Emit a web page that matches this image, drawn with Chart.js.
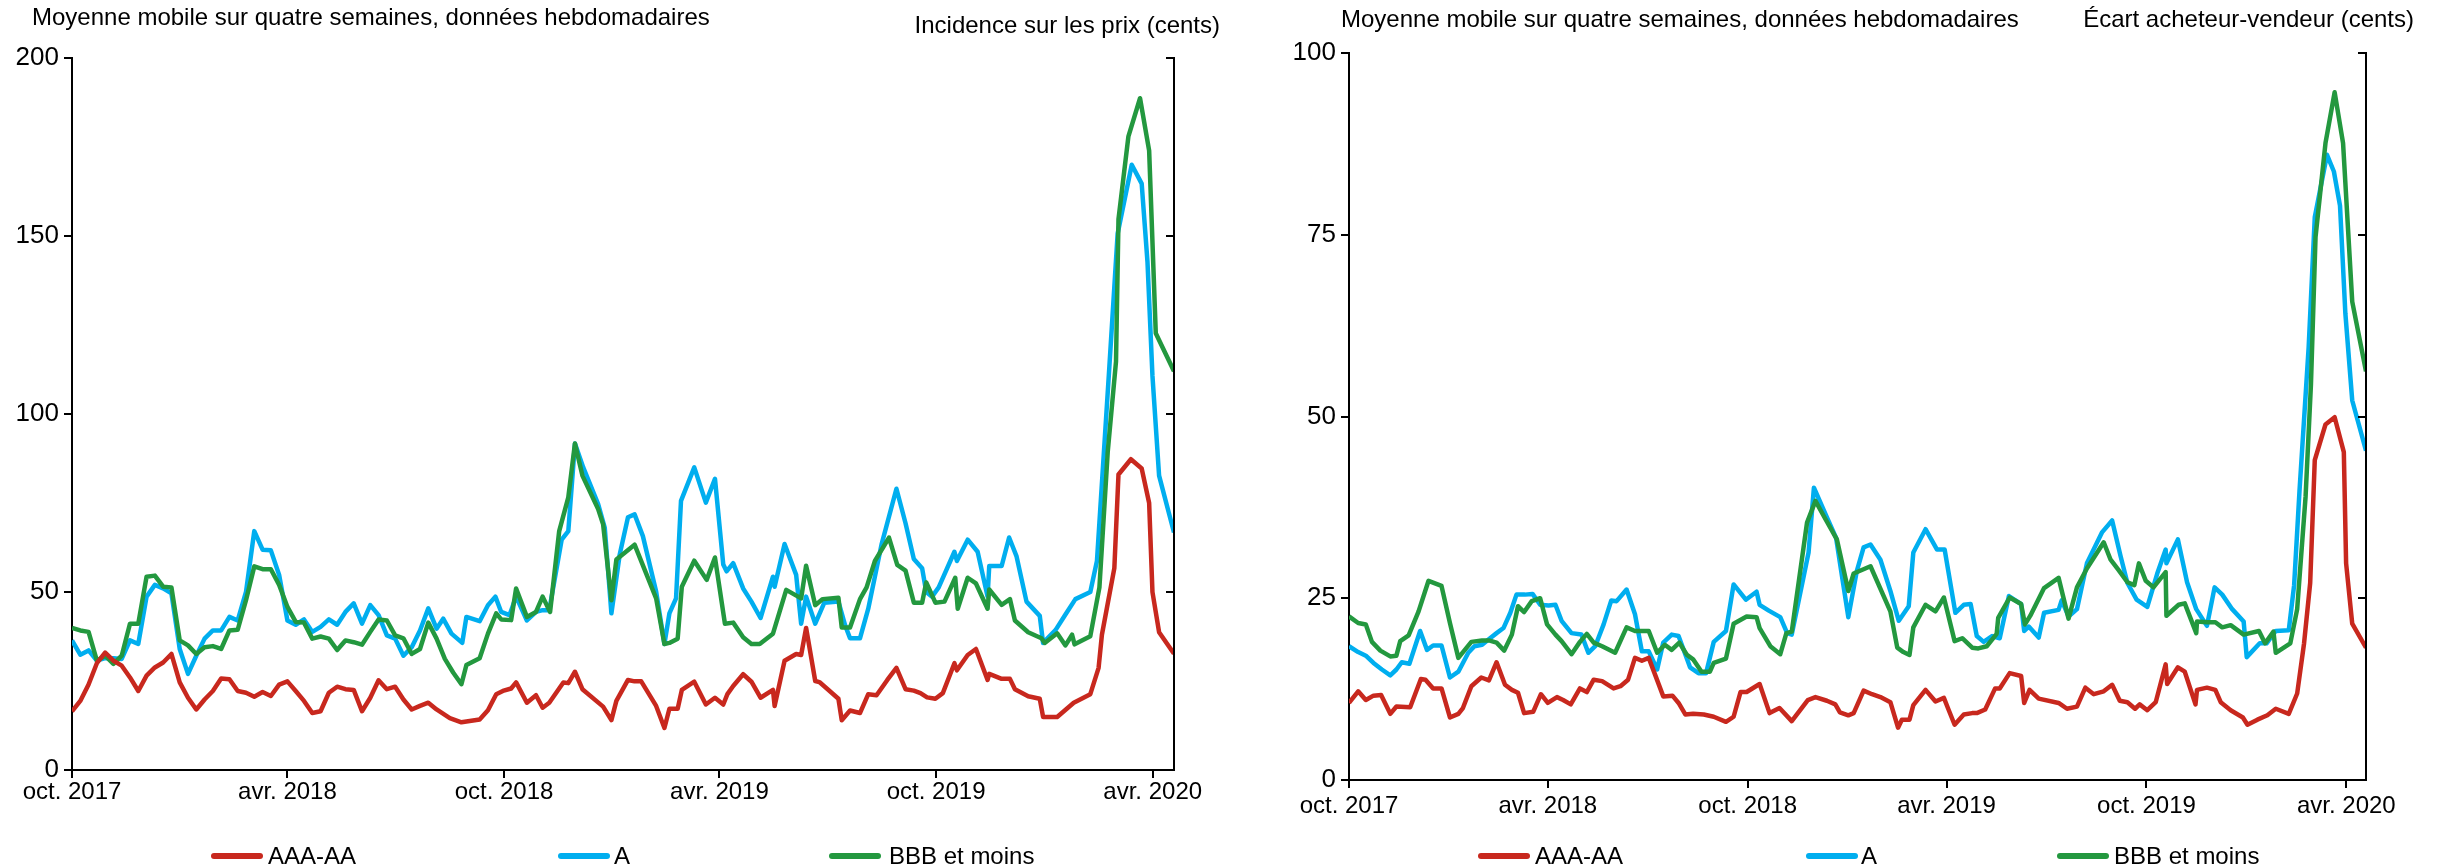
<!DOCTYPE html>
<html lang="fr">
<head>
<meta charset="utf-8">
<title>Incidence sur les prix et écart acheteur-vendeur</title>
<script src="https://cdn.jsdelivr.net/npm/chart.js@4.4.1/dist/chart.umd.min.js"></script>
<style>
  html, body { margin: 0; padding: 0; background: #fff; }
  body { width: 2443px; height: 868px; position: relative; overflow: hidden;
         font-family: "Liberation Sans", Arial, sans-serif; color: #000; }
  canvas { position: absolute; top: 0; }
  .txt { position: absolute; font-size: 24px; line-height: 28px; white-space: nowrap; }
  .sw { position: absolute; height: 6px; border-radius: 3px; }
</style>
</head>
<body>
<canvas id="prix" width="1240" height="868" style="left:0"></canvas>
<canvas id="ecart" width="1203" height="868" style="left:1240px"></canvas>

<div class="txt" style="left:32px; top:3px">Moyenne mobile sur quatre semaines, données hebdomadaires</div>
<div class="txt" style="right:1223px; top:11px">Incidence sur les prix (cents)</div>
<div class="txt" style="left:1341px; top:5px">Moyenne mobile sur quatre semaines, données hebdomadaires</div>
<div class="txt" style="right:29px; top:5px">Écart acheteur-vendeur (cents)</div>

<div id="legendes"></div>

<script>
// Axis labels (x positions in weeks since the start of October 2017)
const tickLabels = ['oct. 2017', 'avr. 2018', 'oct. 2018', 'avr. 2019', 'oct. 2019', 'avr. 2020'];
const tickWeeks = [0, 26, 52.14, 78.14, 104.29, 130.43];
const seriesNames = ['AAA-AA', 'A', 'BBB et moins'];
const seriesColors = ['#C8281E', '#00AEEF', '#23983F'];

// Incidence sur les prix (cents) — [week, value]
const prixAAA = [[0,16.5],[1,19.4],[2,24],[3,30],[4,33],[5,30.7],[6,29.3],[7,26],[8,22.2],[9,26.5],[10,28.8],[11,30.2],[12,32.6],[13,24.6],[14,20.3],[15,17],[16,19.8],[17,22.2],[18,25.7],[19,25.5],[20,22.2],[21,21.7],[22,20.6],[23,21.9],[24,20.8],[25,24],[26,24.9],[27,22.2],[28,19.4],[29,16],[30,16.5],[31,21.7],[32,23.4],[33,22.7],[34,22.5],[35,16.5],[36,20.3],[37,25.2],[38,22.7],[39,23.4],[40,19.8],[41,17],[42,18],[43,18.9],[44,17],[45.6,14.6],[47,13.4],[49.2,14.2],[50.2,16.8],[51.2,21.3],[52,22.2],[53,22.9],[53.6,24.6],[54.9,18.9],[56,21],[56.8,17.5],[57.6,18.9],[59.3,24.6],[59.9,24.4],[60.7,27.6],[61.6,22.7],[64.1,17.8],[65.1,14],[65.7,19.4],[67.1,25.3],[67.9,24.9],[68.7,24.9],[70.5,18],[71.5,11.8],[72.1,17.2],[73.1,17.2],[73.6,22.5],[75.1,24.8],[76.5,18.4],[77.6,20.3],[78.6,18.4],[79.1,21.3],[79.8,23.6],[81,26.9],[82,24.8],[83.1,20.3],[84.6,22.5],[84.8,18],[86,30.7],[87.4,32.6],[88,32.3],[88.6,39.9],[89.7,25],[90.2,24.7],[91.2,22.7],[92.5,20],[92.9,14],[93.9,16.7],[95.1,16],[96.1,21.3],[97.1,21],[98.4,25.3],[99.5,28.7],[100.6,22.7],[101.6,22.3],[102.4,21.6],[103.2,20.4],[104.2,20],[105.1,21.6],[106.5,30],[106.8,28],[108.1,32.3],[109.1,34],[110.5,25.3],[110.7,27],[112.2,25.6],[113.2,25.6],[113.8,22.7],[115.4,20.7],[116.8,20],[117.2,14.9],[118.9,14.9],[120.9,18.9],[122.9,21.3],[123.9,28.7],[124.3,38],[125.8,56.7],[126.3,83],[127.8,87.3],[129.1,84.7],[130,75],[130.4,50],[131.2,38.7],[133,32.7]];
const prixA = [[0,36.4],[1,32.4],[2,33.6],[3,30.7],[4,31.4],[5,31.4],[6,31.2],[7,36.4],[8,35.4],[9,48.7],[10,52],[11,51],[12,49.6],[13,34],[14,27],[15,32.1],[16,36.9],[17,39.2],[18,39.2],[19,43],[20,42],[21,50],[22,67.1],[23,61.9],[24,61.7],[25,54.8],[26,42],[27,40.8],[28,42.3],[29,38.8],[30,40.2],[31,42.3],[32,40.8],[33,44.4],[34,46.8],[35,41.1],[36,46.3],[37,43.5],[38,37.8],[39,36.9],[40,32.1],[41,34.5],[42,39.2],[43,45.4],[44,39.7],[44.8,42.5],[45.8,38.3],[47.1,35.7],[47.6,43],[49.2,41.8],[50.2,46.3],[51.1,48.7],[51.8,44.4],[52.8,43.5],[53.6,48.7],[54.9,42],[56,44.4],[56.8,44.9],[57.6,44.9],[59.1,64.7],[59.9,67.1],[60.7,91.7],[61.7,85],[63.5,74.7],[64.3,68],[65.1,44],[66.1,60.5],[67.1,71],[67.9,71.8],[68.9,65.7],[70.5,50.1],[71.5,35.4],[72.1,44],[72.9,48.2],[73.5,75.6],[75.1,85],[76.5,75.1],[77.6,81.8],[78.6,57.7],[79,55.8],[79.8,58.1],[81,51],[82,47.3],[83.1,42.7],[84.6,54.3],[84.8,51.5],[86,63.5],[87.4,54.8],[88,41.1],[88.6,48.7],[89.7,41.1],[90.8,47],[92.5,47.3],[93.3,40.7],[93.9,37],[95.1,37],[96.1,45.3],[97.7,63.3],[99.5,79],[100.6,69.3],[101.6,59.3],[102.6,56.7],[103.1,50],[103.8,48.7],[104.6,51.3],[106.5,61.3],[106.8,58.7],[108.1,64.7],[109.3,61.3],[110.5,48.7],[110.7,57.3],[112.2,57.3],[113.1,65.3],[114,60],[115.2,47.3],[116.8,43.3],[117.2,35.7],[118.7,39.3],[119.9,43.7],[121.1,48],[122.9,50],[123.7,58.7],[125.2,113.3],[126.2,150.7],[127.9,170],[129.1,164.7],[129.8,142.7],[130.4,110.7],[131.2,82.7],[133,66.7]];
const prixBBB = [[0,39.9],[1,39.2],[2,38.8],[3,30.7],[4,32.1],[5,29.8],[6,32.1],[7,41.1],[8,41.1],[9,54.3],[10,54.6],[11,51.5],[12,51.3],[13,36.4],[14,35],[15,32.6],[16,34.5],[17,34.8],[18,34],[19,39.2],[20,39.4],[21,47.7],[22,57.2],[23,56.4],[24,56.4],[25,52],[26,45.8],[27,41.6],[28,41.4],[29,36.9],[30,37.5],[31,36.9],[32,33.7],[33,36.4],[34,35.9],[35,35.2],[36,38.8],[37,42.3],[38,42],[39,37.8],[40,37],[41,32.6],[42,34],[43,41.4],[44,36.9],[45,31.2],[46,27.4],[47,24.1],[47.6,29.5],[49.2,31.4],[50.2,38.3],[51.2,44],[51.8,42.3],[53,42.1],[53.6,51],[54.9,43],[56,44.4],[56.8,48.7],[57.7,44.4],[58.8,67.1],[59.9,76.6],[60.7,91.7],[61.6,82.7],[63.5,73.3],[64.1,69],[65.1,47.7],[65.7,59.1],[67.9,63.3],[70.5,48.2],[71.5,35.4],[72.1,35.7],[73.1,36.9],[73.6,51.5],[75.1,58.8],[76.6,53.4],[77.6,59.7],[78.8,41.1],[79.8,41.4],[81,37.3],[82,35.4],[83,35.4],[84.6,38.3],[86.2,50.6],[88,48.2],[88.6,57.4],[89.7,46.3],[90.6,48],[92.5,48.4],[92.9,40],[93.9,40],[95.1,48],[95.9,51.3],[96.9,58.7],[98.6,65.3],[99.6,57.6],[100.6,56],[101.6,47],[102.6,47],[103.1,52.7],[104.2,47],[105.3,47.3],[106.6,54],[106.9,45.3],[108.1,54],[109.1,52.4],[110.5,45.3],[110.7,50.7],[112.2,46.4],[113.2,48],[113.8,42],[115.4,38.7],[117,37],[117.4,35.7],[118.9,38.4],[119.9,35],[120.7,38],[121,35.3],[122.9,37.6],[124,51.3],[125,89.3],[126,114.7],[126.3,154.7],[127.5,178],[128.9,188.7],[130,174],[130.8,122.7],[133,112]];

// Écart acheteur-vendeur (cents) — [week, value]
const ecartAAA = [[0,10.6],[1.2,12.2],[2.2,11],[3.2,11.6],[4.2,11.7],[5.4,9.1],[6.2,10.1],[8,10],[9.4,13.9],[10,13.8],[11,12.6],[12.1,12.6],[13.2,8.6],[14.3,9.1],[14.9,9.9],[16,12.9],[17.3,14.1],[18.3,13.7],[19.3,16.2],[20.4,13.1],[21.3,12.4],[22.1,12],[22.9,9.2],[24.1,9.4],[25.1,11.8],[26,10.6],[27.2,11.4],[28,11],[29,10.4],[30.2,12.6],[31.1,12.1],[32,13.8],[33.1,13.6],[34.6,12.6],[35.5,12.9],[36.5,13.8],[37.4,16.8],[38.3,16.4],[39.2,16.8],[41.1,11.5],[42.3,11.6],[43.1,10.6],[44,9],[45,9.1],[46.4,9],[47.7,8.7],[49.3,8],[50.3,8.7],[51.2,12.1],[52,12.1],[53.7,13.2],[55,9.2],[56.3,9.9],[57.9,8.1],[60,11],[61,11.4],[62.5,10.9],[63.6,10.4],[64.2,9.3],[65.3,8.9],[66,9.2],[67.3,12.3],[68.4,11.8],[69.5,11.4],[70.8,10.7],[71.8,7.2],[72.3,8.3],[73.3,8.3],[73.8,10.3],[75.4,12.4],[76.7,10.8],[77.8,11.3],[78.4,9.7],[79.2,7.6],[80.4,9],[81.5,9.2],[82.1,9.2],[83.2,9.7],[84.5,12.6],[85.1,12.6],[86.4,14.7],[87.9,14.3],[88.3,10.6],[89,12.4],[90.2,11.2],[92.8,10.6],[93.9,9.8],[95.2,10.1],[96.3,12.7],[97.4,11.8],[98.7,12.2],[99.8,13.1],[100.8,10.9],[101.8,10.7],[102.8,9.8],[103.4,10.4],[104.4,9.6],[105.5,10.7],[106.8,15.9],[107,13.2],[108.4,15.5],[109.3,14.9],[110.7,10.4],[110.9,12.4],[112.2,12.7],[113.3,12.4],[114,10.7],[115.3,9.6],[116.9,8.6],[117.5,7.6],[118.8,8.3],[120.1,8.9],[121.2,9.8],[122.9,9.1],[124,11.9],[124.9,18.8],[125.7,27.1],[126.3,44],[127.7,48.9],[128.9,49.9],[130.1,45.1],[130.4,29.8],[131.2,21.5],[133,18.2]];
const ecartA = [[0,18.4],[1.2,17.6],[2.2,17.1],[3.2,16.1],[4.3,15.2],[5.4,14.4],[6.2,15.2],[6.9,16.2],[7.9,16],[9.3,20.5],[10.2,17.9],[11,18.5],[12.1,18.5],[13.2,14.1],[14.3,14.9],[15.6,17.5],[16.4,18.4],[17.4,18.6],[18.2,19.3],[19.3,20.2],[20.2,20.9],[21.1,23],[21.9,25.5],[23,25.5],[24,25.6],[25,24.1],[26.1,24],[27,24.1],[27.8,21.9],[29.1,20.2],[30.4,20],[31.3,17.5],[32.2,18.4],[33.3,21.4],[34.3,24.7],[35,24.6],[36.3,26.2],[37.4,22.8],[38.3,17.7],[39.2,17.7],[40.3,15.2],[41.1,18.9],[42.2,20],[43.1,19.8],[44.6,15.5],[45.7,14.7],[46.7,14.7],[47.7,19],[49.3,20.5],[50.3,26.9],[51.9,24.8],[53.3,25.9],[53.7,24.1],[54.9,23.3],[56.4,22.4],[57.3,20.2],[57.9,20],[60.1,31.3],[60.8,40.2],[62.3,36.6],[63.7,33.3],[65.3,22.4],[66.4,28.7],[67.3,32],[68.2,32.4],[69.5,30.3],[70.8,26],[71.9,21.9],[73.2,23.9],[73.8,31.3],[75.4,34.5],[76.9,31.7],[77.9,31.7],[79.3,23],[80.4,24.1],[81.3,24.2],[82.1,19.8],[83,19],[84.1,19.8],[85.1,19.5],[86.3,25.3],[87.9,24.2],[88.3,20.5],[88.9,21.1],[90.2,19.6],[90.9,23],[92.8,23.4],[93.2,24.7],[94.1,22.5],[95.2,23.5],[96.5,29.8],[98.5,34.1],[99.8,35.7],[100.9,30.8],[101.8,27.1],[103,24.8],[104.4,23.8],[105.7,28.4],[106.8,31.7],[106.9,29.8],[108.4,33.1],[109.6,27.2],[110.8,23.5],[112.2,21.2],[113.2,26.5],[114.2,25.5],[115.5,23.5],[117,21.8],[117.4,16.9],[119.1,18.8],[120,18.8],[121.2,20.5],[122.9,20.6],[123.6,26.8],[124.3,39.7],[125.5,59.5],[126.3,77.4],[127.9,86],[128.8,83.7],[129.6,79],[130.3,64.2],[131.2,52.2],[133,45.3]];
const ecartBBB = [[0,22.5],[1.2,21.6],[2.2,21.4],[3,19],[4.1,17.8],[5.4,17],[6.2,17.1],[6.7,19.1],[7.8,19.9],[9.1,23.2],[10.4,27.4],[12.1,26.7],[13.2,21.6],[14.3,16.8],[16,19],[17.4,19.2],[18.3,19.2],[19.3,18.9],[20.3,17.8],[21.3,20],[22.1,23.9],[22.9,23.1],[23.9,24.6],[25,25],[25.9,21.4],[27,20],[27.8,19.1],[29.1,17.3],[30.2,19],[31.1,20.1],[32,18.9],[33.1,18.4],[34.8,17.5],[36.3,21],[37.4,20.5],[39.2,20.5],[40.3,17.5],[41.3,18.6],[42.2,17.9],[43.2,18.9],[44.2,17.2],[45,16.6],[46.1,14.9],[47.2,14.9],[47.7,16.1],[49.3,16.7],[50.3,21.5],[52,22.5],[53.3,22.4],[53.7,20.9],[55.1,18.4],[56.4,17.3],[57.2,20.2],[57.9,20.4],[59.9,35.4],[61,38.4],[62.3,35.9],[63.8,33.1],[65.3,26],[66,28.4],[68.2,29.4],[70.8,23.2],[71.7,18.2],[72.5,17.6],[73.3,17.2],[73.8,21],[75.4,24.1],[76.7,23.2],[77.8,25.1],[79.2,19.1],[80.2,19.5],[81.5,18.2],[82.3,18.1],[83.4,18.4],[84.7,20.1],[84.9,22.3],[86.4,25.1],[87.9,24.2],[88.4,21.4],[89.1,22.6],[90.9,26.4],[92.8,27.8],[94.1,22.2],[95.2,26.5],[96.5,29.1],[98.7,32.7],[99.6,30.3],[100.7,28.8],[101.8,27.2],[102.7,26.8],[103.3,29.8],[104.2,27.4],[105.2,26.5],[106.8,28.6],[106.9,22.6],[108.5,24.1],[109.3,24.3],[110.8,20.2],[110.9,21.8],[112.2,21.7],[113.3,21.7],[114.2,21],[115.3,21.3],[117,20],[119,20.5],[119.8,18.8],[120.9,20.4],[121.2,17.5],[123.1,18.8],[124,23.5],[125.1,39],[125.8,54.4],[126.4,74.7],[127.7,87.6],[128.9,94.6],[130,87.6],[131.2,65.8],[133,56.2]];

Chart.defaults.font.family = '"Liberation Sans", Arial, sans-serif';
Chart.defaults.font.size = 24;
Chart.defaults.color = '#000';

// Right-hand frame line with inward tick marks
const rightFrame = {
  id: 'rightFrame',
  afterDraw(chart) {
    const { ctx, chartArea: a, scales: { y } } = chart;
    ctx.save();
    ctx.strokeStyle = '#000';
    ctx.lineWidth = 2;
    ctx.beginPath();
    ctx.moveTo(a.right, a.top - 1);
    ctx.lineTo(a.right, a.bottom);
    y.ticks.forEach(t => {
      const py = Math.round(y.getPixelForValue(t.value));
      ctx.moveTo(a.right, py);
      ctx.lineTo(a.right - 8, py);
    });
    ctx.stroke();
    ctx.restore();
  }
};

function toPoints(pairs) { return pairs.map(([x, y]) => ({ x, y })); }

function makeChart(id, series, yMax, yStep, pad, xLabelPad) {
  const datasets = series.map((s, i) => ({
    label: seriesNames[i],
    data: toPoints(s),
    borderColor: seriesColors[i],
    backgroundColor: seriesColors[i],
    borderWidth: 4.5,
    pointRadius: 0,
    tension: 0,
    borderJoinStyle: 'round',
    fill: false,
    order: [0, 2, 1][i]
  }));
  const axisGrid = { display: true, drawOnChartArea: false, drawTicks: true, tickLength: 8, color: '#000', lineWidth: 2 };
  return new Chart(document.getElementById(id), {
    type: 'line',
    data: { datasets },
    plugins: [rightFrame],
    options: {
      responsive: false,
      animation: false,
      devicePixelRatio: 1,
      layout: { padding: pad },
      plugins: { legend: { display: false }, tooltip: { enabled: false } },
      scales: {
        x: {
          type: 'linear', min: 0, max: 133,
          grid: axisGrid,
          border: { display: true, color: '#000', width: 2 },
          afterBuildTicks: sc => { sc.ticks = tickWeeks.map(v => ({ value: v })); },
          afterFit: sc => { sc.height = 60; },
          ticks: { autoSkip: false, maxRotation: 0, padding: xLabelPad,
                   callback: (v, i) => tickLabels[i] }
        },
        y: {
          min: 0, max: yMax,
          grid: axisGrid,
          border: { display: true, color: '#000', width: 2 },
          afterFit: sc => { sc.width = 72; },
          ticks: { stepSize: yStep, padding: 5, font: { size: 26 } }
        }
      }
    }
  });
}

makeChart('prix', [prixAAA, prixA, prixBBB], 200, 50,
          { left: 0, top: 58, right: 66, bottom: 38 }, 0);
makeChart('ecart', [ecartAAA, ecartA, ecartBBB], 100, 25,
          { left: 37, top: 53, right: 77, bottom: 28 }, 4);

// Legends below each panel
const legendLayout = [
  { sw: [211, 558, 829], tx: [268, 614, 889] },
  { sw: [1478, 1806, 2057], tx: [1535, 1861, 2114] }
];
const host = document.getElementById('legendes');
legendLayout.forEach(L => {
  seriesNames.forEach((name, i) => {
    const sw = document.createElement('div');
    sw.className = 'sw';
    sw.style.left = L.sw[i] + 'px';
    sw.style.top = '853px';
    sw.style.width = '52px';
    sw.style.background = seriesColors[i];
    host.appendChild(sw);
    const tx = document.createElement('div');
    tx.className = 'txt';
    tx.style.left = L.tx[i] + 'px';
    tx.style.top = '842px';
    tx.textContent = name;
    host.appendChild(tx);
  });
});
</script>
</body>
</html>
